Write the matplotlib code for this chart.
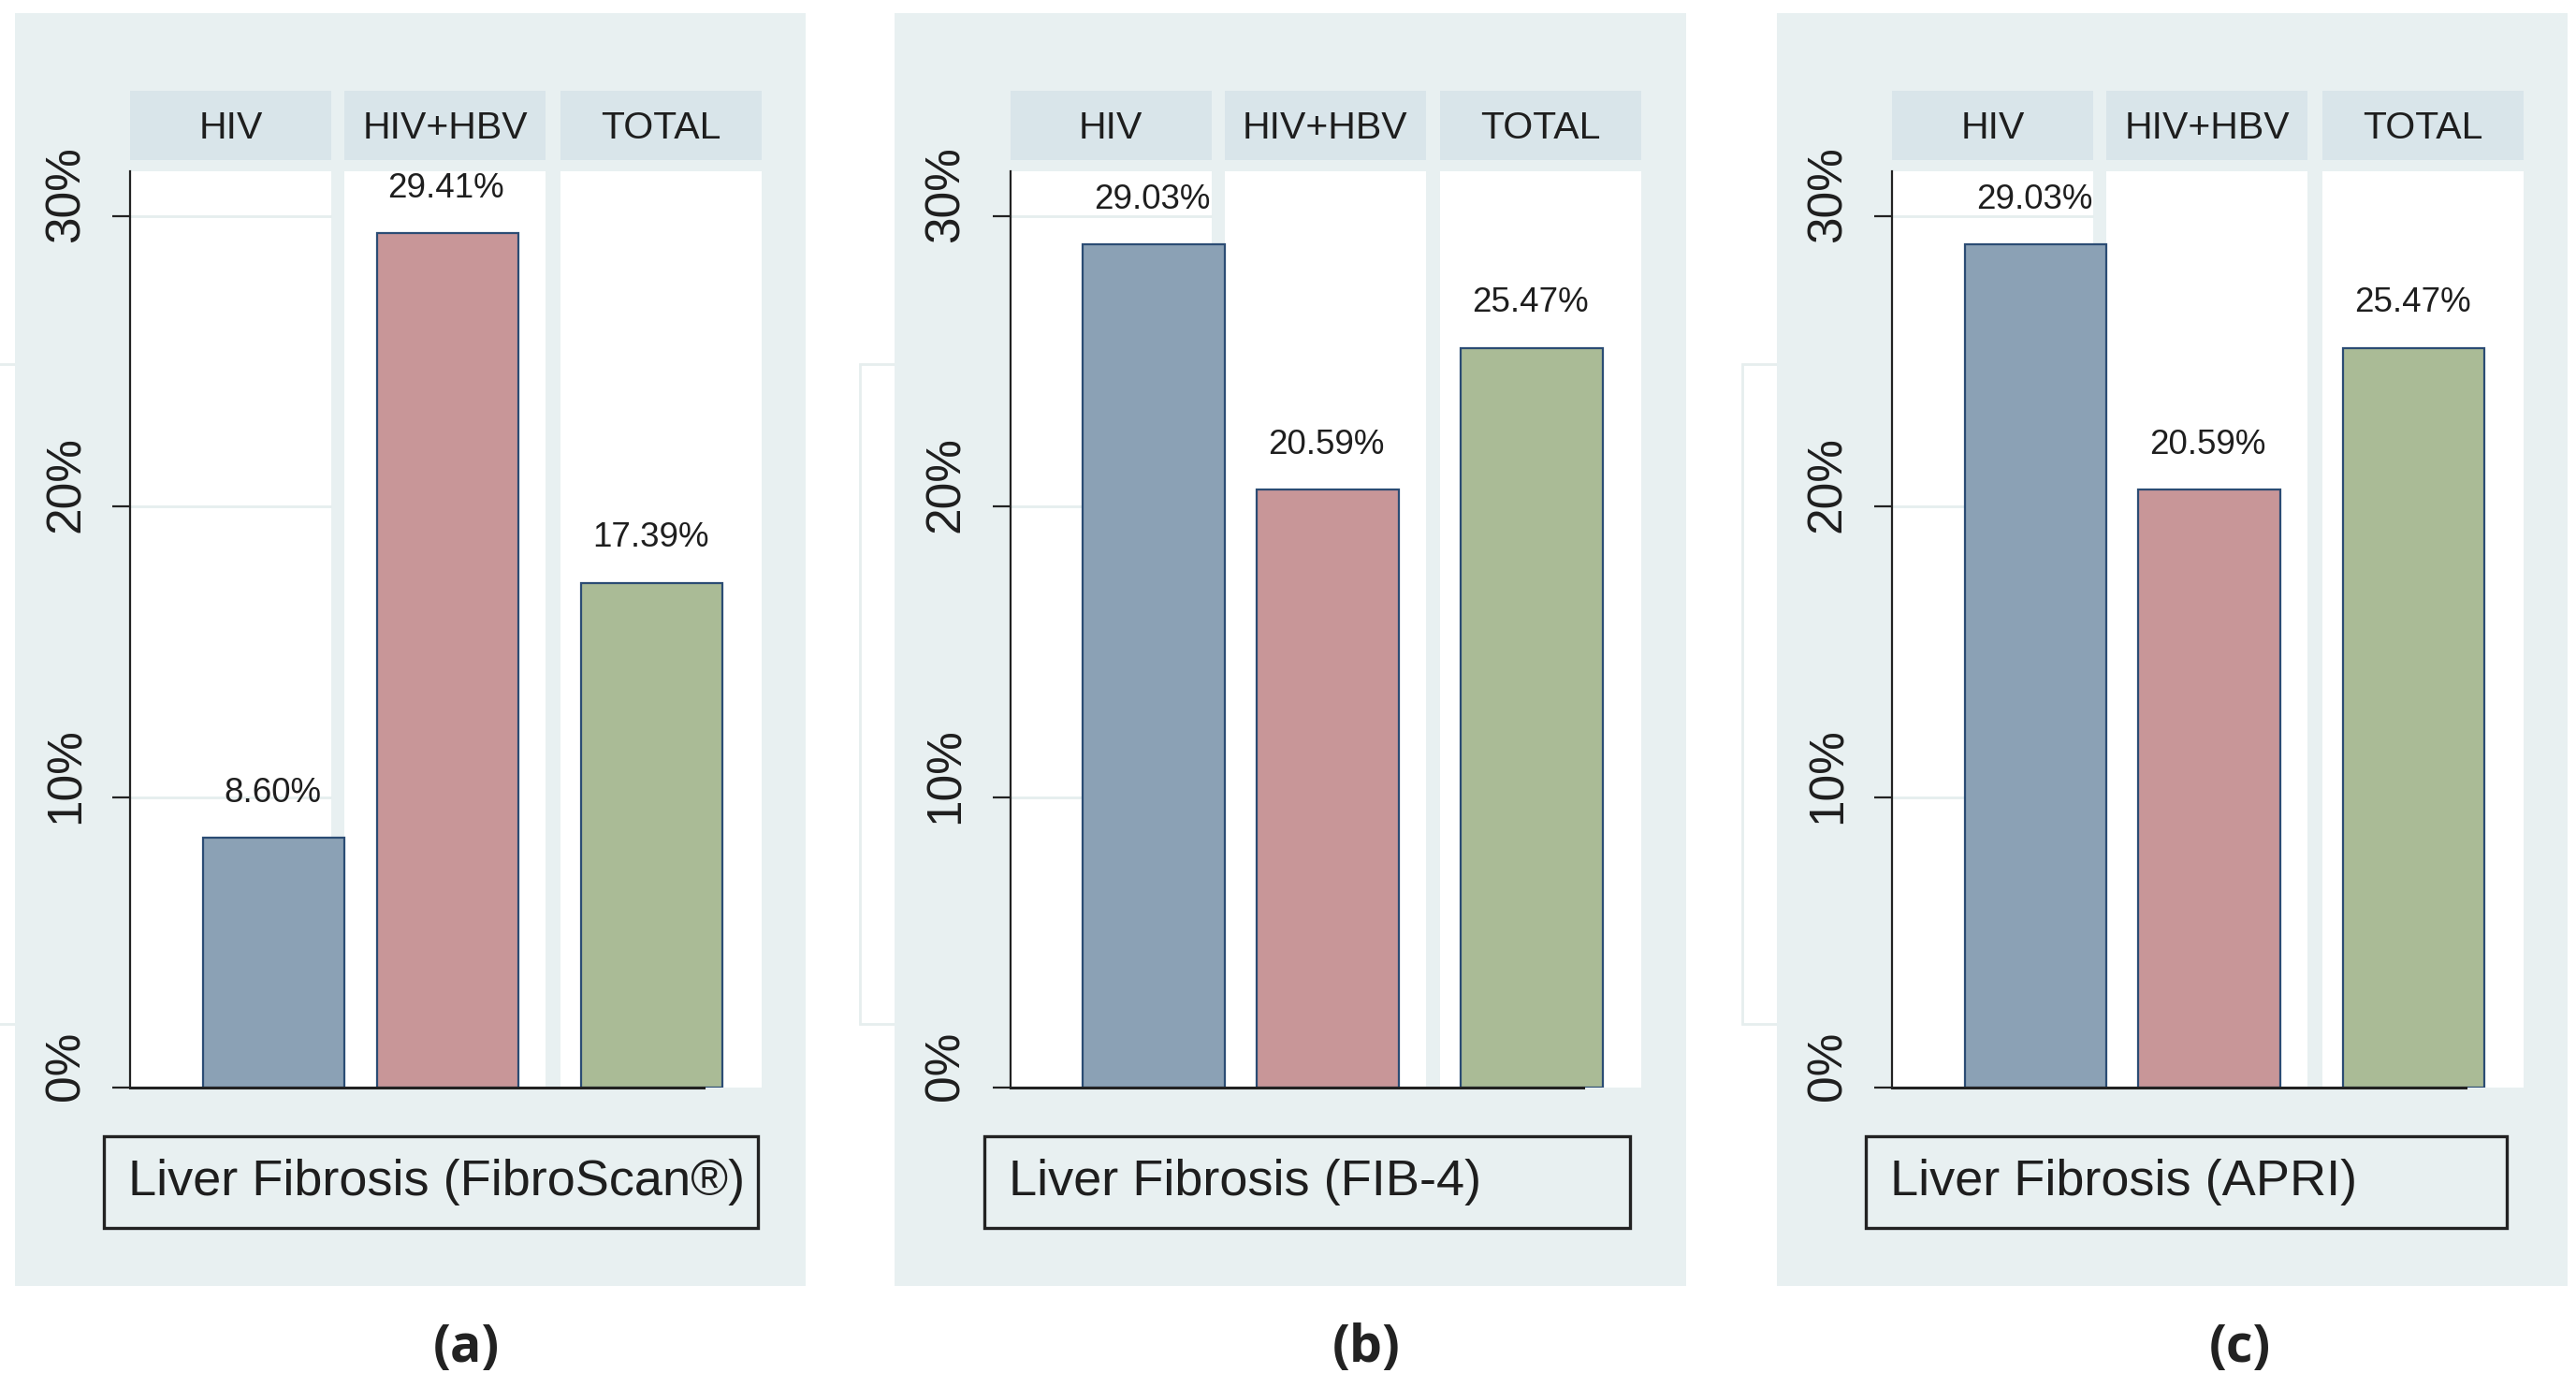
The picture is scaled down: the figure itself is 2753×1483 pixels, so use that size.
import matplotlib
matplotlib.use('Agg')
import matplotlib.pyplot as plt
from matplotlib.patches import Rectangle
from matplotlib.transforms import ScaledTranslation

plt.rcParams['font.family'] = ['Liberation Sans', 'DejaVu Sans']

# data
groups = ['HIV', 'HIV+HBV', 'TOTAL']
fibroscan = [8.60, 29.41, 17.39]
fib4 = [29.03, 20.59, 25.47]
apri = [29.03, 20.59, 25.47]
panel_values = [fibroscan, fib4, apri]
panel_titles = ['Liver Fibrosis (FibroScan®)', 'Liver Fibrosis (FIB-4)', 'Liver Fibrosis (APRI)']
panel_tags = ['(a)', '(b)', '(c)']
yticks = [0, 10, 20, 30]
ytick_labels = ['0%', '10%', '20%', '30%']

# style
bar_colors = ['#8ba1b5', '#c89698', '#aabb96']
edge = '#2b4c74'
bg = '#e8f0f1'
strip_bg = '#d9e5ea'
text_col = '#1e1e1e'

W, H = 2753, 1483
S = W / 1563.0  # layout measured on a 1563 px wide copy


def box(x0, y0, x1, y1):
    # top-left pixel box -> figure fraction [l, b, w, h]
    return [x0 * S / W, 1 - y1 * S / H, (x1 - x0) * S / W, (y1 - y0) * S / H]


# column layout inside one panel (unit = one column width)
col_spans = [(0, 1), (1.066, 2.066), (2.139, 3.139)]
bar_x = [0.713, 1.578, 2.594]
bar_w = 0.705
col_px = 122  # column width in measured px

panel_offsets = [0, 534, 1069]
title_right = [460, 455, 452]
tag_x = [283, 829, 1359]

fig = plt.figure(figsize=(W / 100, H / 100), dpi=100)
fig.patch.set_facecolor('white')

for i, off in enumerate(panel_offsets):
    # faint ghost frame behind the panels (only its left part shows)
    l, b, w, h = box(off - 12, 221, off + 470, 621)
    fig.add_artist(Rectangle((l, b), w, h, transform=fig.transFigure,
                             facecolor='white', edgecolor='#e6eeee', lw=2, zorder=0))
    # panel background
    l, b, w, h = box(9 + off, 8, 489 + off, 780)
    fig.add_artist(Rectangle((l, b), w, h, transform=fig.transFigure,
                             facecolor=bg, edgecolor='none', zorder=0.5))

    # strip headers
    for (s0, s1), g in zip(col_spans, groups):
        x0 = 79 + off + s0 * col_px
        x1 = 79 + off + s1 * col_px
        l, b, w, h = box(x0, 55, x1, 97)
        fig.add_artist(Rectangle((l, b), w, h, transform=fig.transFigure,
                                 facecolor=strip_bg, edgecolor='none', zorder=1))
        fig.text(l + w / 2, b + h / 2 - 0.002, g, ha='center', va='center',
                 fontsize=29.5, color=text_col, zorder=2)

    ax = fig.add_axes(box(79 + off, 104, 462 + off, 660))
    ax.set_zorder(2)
    ax.set_facecolor(bg)
    for s0, s1 in col_spans:
        ax.axvspan(s0, s1, color='white', lw=0, zorder=0)
    ax.hlines(yticks[1:], 0, 1, color='#e5eeee', lw=2, zorder=0.5)

    vals = panel_values[i]
    ax.bar(bar_x, vals, width=bar_w, color=bar_colors, edgecolor=edge,
           linewidth=1.6, zorder=2)
    for x, v in zip(bar_x, vals):
        ax.annotate(f'{v:.2f}%', (x, v), xytext=(-1, 22), textcoords='offset points',
                    ha='center', va='bottom', fontsize=26.5, color=text_col)

    ax.set_xlim(0, col_spans[-1][1])
    ax.set_ylim(0, 31.54)
    ax.set_xticks([])
    ax.set_yticks(yticks)
    ax.set_yticklabels(ytick_labels, family=['Liberation Sans Narrow', 'Liberation Sans'],
                       fontsize=37, color=text_col)
    ax.tick_params(axis='y', length=13.5, width=1.6, pad=18, labelrotation=90,
                   color='#222222')
    for lab in ax.get_yticklabels():
        lab.set_va('center')
        lab.set_transform(lab.get_transform() + ScaledTranslation(0, 17 / 72, fig.dpi_scale_trans))
    for side in ['top', 'right']:
        ax.spines[side].set_visible(False)
    ax.spines['left'].set_linewidth(1.6)
    ax.spines['left'].set_color('#222222')
    ax.spines['bottom'].set_linewidth(2.2)
    ax.spines['bottom'].set_color('#222222')
    ax.spines['bottom'].set_bounds(0, 2.85)
    ax.spines['bottom'].set_zorder(3)

    # title box under the panel
    l, b, w, h = box(63 + off, 689, title_right[i] + off, 745)
    fig.add_artist(Rectangle((l, b), w, h, transform=fig.transFigure,
                             facecolor=bg, edgecolor='#222222', lw=2.4, zorder=1))
    fig.text((78 + off) * S / W, b + h / 2, panel_titles[i], ha='left', va='center',
             fontsize=39, color=text_col, zorder=2)

    # panel tag
    fig.text(tag_x[i] * S / W, 1 - 818 * S / H, panel_tags[i], ha='center', va='center',
             fontsize=40, fontweight='bold', family=['Open Sans', 'DejaVu Sans'],
             color='#222222')

fig.savefig('out.png', dpi=100, facecolor='white')
